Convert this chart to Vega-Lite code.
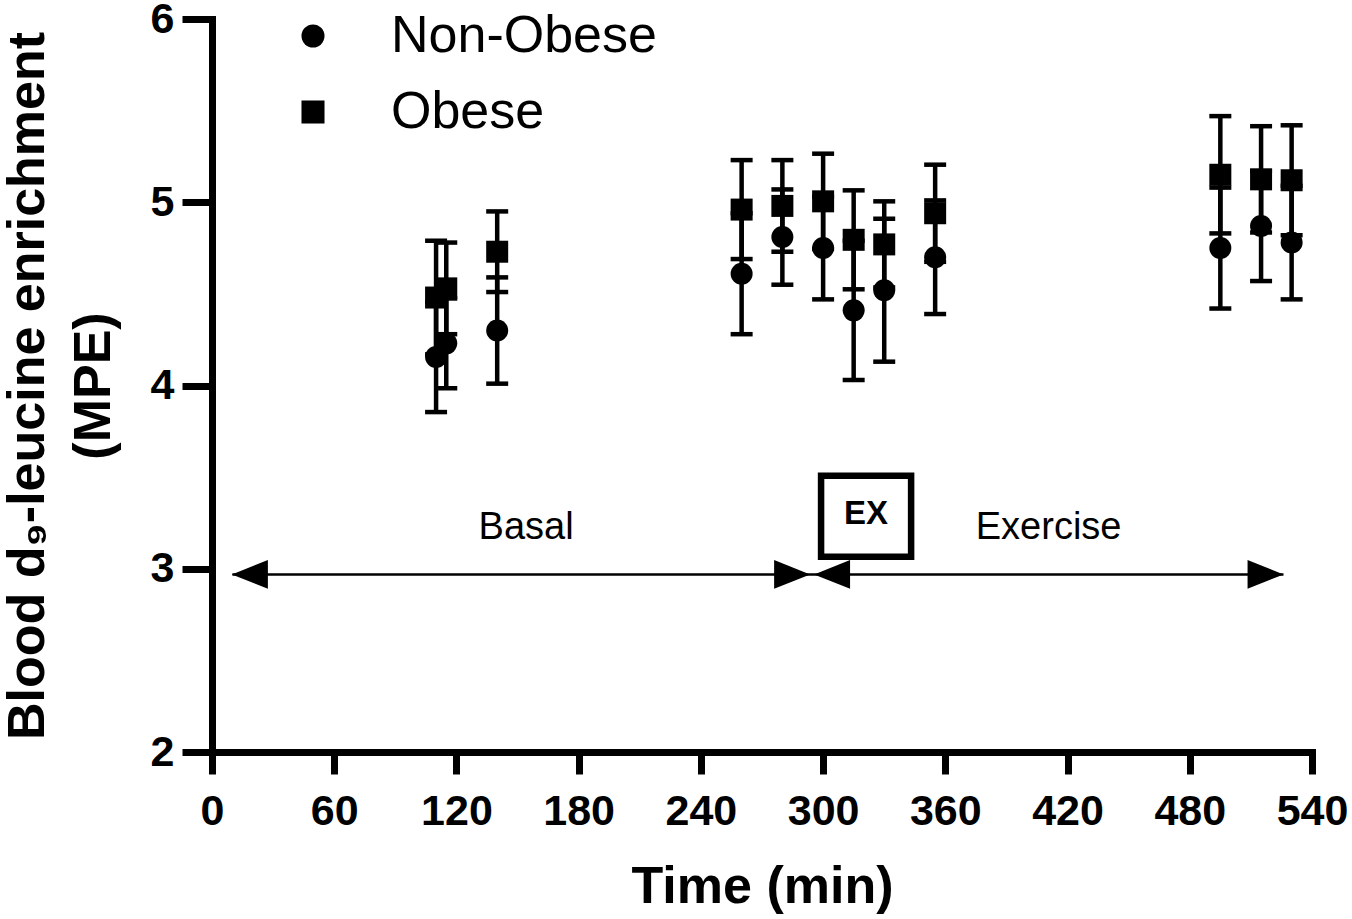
{
  "$schema": "https://vega.github.io/schema/vega-lite/v6.json",
  "width": 1100,
  "height": 733,
  "autosize": {"type": "none"},
  "padding": {"left": 212, "top": 19, "right": 40, "bottom": 167},
  "background": "white",
  "config": {
    "view": {"stroke": null},
    "font": "Liberation Sans",
    "axis": {
      "grid": false,
      "domainColor": "black",
      "domainWidth": 7,
      "domainCap": "square",
      "tickColor": "black",
      "tickWidth": 7,
      "labelColor": "black",
      "labelFont": "Liberation Sans",
      "labelFontWeight": "bold",
      "labelFontSize": 43,
      "labelFlush": false,
      "labelOverlap": false,
      "titleColor": "black",
      "titleFont": "Liberation Sans",
      "titleFontWeight": "bold",
      "titleFontSize": 52
    }
  },
  "datasets": {
    "enrichment": [
      {"group": "Non-Obese", "time": 110, "mean": 4.155, "lo": 3.855, "hi": 4.455},
      {"group": "Non-Obese", "time": 115, "mean": 4.23, "lo": 3.985, "hi": 4.475},
      {"group": "Non-Obese", "time": 140, "mean": 4.30, "lo": 4.01, "hi": 4.59},
      {"group": "Non-Obese", "time": 260, "mean": 4.61, "lo": 4.28, "hi": 4.94},
      {"group": "Non-Obese", "time": 280, "mean": 4.81, "lo": 4.55, "hi": 5.07},
      {"group": "Non-Obese", "time": 300, "mean": 4.75, "lo": 4.47, "hi": 5.03},
      {"group": "Non-Obese", "time": 315, "mean": 4.41, "lo": 4.03, "hi": 4.79},
      {"group": "Non-Obese", "time": 330, "mean": 4.52, "lo": 4.13, "hi": 4.91},
      {"group": "Non-Obese", "time": 355, "mean": 4.70, "lo": 4.39, "hi": 5.01},
      {"group": "Non-Obese", "time": 495, "mean": 4.75, "lo": 4.42, "hi": 5.08},
      {"group": "Non-Obese", "time": 515, "mean": 4.87, "lo": 4.57, "hi": 5.17},
      {"group": "Non-Obese", "time": 530, "mean": 4.78, "lo": 4.47, "hi": 5.09},
      {"group": "Obese", "time": 110, "mean": 4.48, "lo": 4.17, "hi": 4.79},
      {"group": "Obese", "time": 115, "mean": 4.53, "lo": 4.28, "hi": 4.78},
      {"group": "Obese", "time": 140, "mean": 4.73, "lo": 4.51, "hi": 4.95},
      {"group": "Obese", "time": 260, "mean": 4.96, "lo": 4.69, "hi": 5.23},
      {"group": "Obese", "time": 280, "mean": 4.98, "lo": 4.73, "hi": 5.23},
      {"group": "Obese", "time": 300, "mean": 5.005, "lo": 4.745, "hi": 5.265},
      {"group": "Obese", "time": 315, "mean": 4.795, "lo": 4.525, "hi": 5.065},
      {"group": "Obese", "time": 330, "mean": 4.77, "lo": 4.535, "hi": 5.005},
      {"group": "Obese", "time": 355, "mean": 4.94, "lo": 4.675, "hi": 5.205},
      {"group": "Obese", "time": 495, "mean": 5.15, "lo": 4.83, "hi": 5.47},
      {"group": "Obese", "time": 515, "mean": 5.125, "lo": 4.835, "hi": 5.415},
      {"group": "Obese", "time": 530, "mean": 5.12, "lo": 4.82, "hi": 5.42}
    ],
    "arrowline": [{"start": 10, "end": 526, "level": 2.969}],
    "arrowheads": [
      {"t": 18.6, "level": 2.969, "dir": "left"},
      {"t": 284.8, "level": 2.969, "dir": "right"},
      {"t": 304.4, "level": 2.969, "dir": "left"},
      {"t": 517.2, "level": 2.969, "dir": "right"}
    ],
    "exbox": [{"x1": 299, "x2": 343.2, "y1": 3.507, "y2": 3.065, "label": "EX", "tx": 321.1, "ty": 3.30}],
    "phases": [
      {"label": "Basal", "t": 154.2, "level": 3.223},
      {"label": "Exercise", "t": 410.7, "level": 3.223}
    ]
  },
  "layer": [
    {
      "data": {"name": "arrowline"},
      "mark": {"type": "rule", "color": "black", "strokeWidth": 2.5},
      "encoding": {
        "x": {"field": "start", "type": "quantitative", "scale": {"domain": [0, 540], "nice": false},
          "axis": {"values": [0, 60, 120, 180, 240, 300, 360, 420, 480, 540], "tickSize": 22, "labelPadding": 16, "title": "Time (min)", "titlePadding": 28}},
        "x2": {"field": "end"},
        "y": {"field": "level", "type": "quantitative", "scale": {"domain": [2, 6], "nice": false},
          "axis": {"values": [2, 3, 4, 5, 6], "format": "d", "tickSize": 30, "labelPadding": 8,
            "title": ["Blood d₉-leucine enrichment", "(MPE)"], "titleFontSize": 52, "titleLineHeight": 66, "titlePadding": 30}}
      }
    },
    {
      "data": {"name": "arrowheads"},
      "transform": [{"filter": "datum.dir === 'left'"}],
      "mark": {"type": "point", "filled": true, "color": "black", "opacity": 1, "size": 1296, "shape": "M-1,0L1,-0.8L1,0.8Z"},
      "encoding": {
        "x": {"field": "t", "type": "quantitative"},
        "y": {"field": "level", "type": "quantitative"}
      }
    },
    {
      "data": {"name": "arrowheads"},
      "transform": [{"filter": "datum.dir === 'right'"}],
      "mark": {"type": "point", "filled": true, "color": "black", "opacity": 1, "size": 1296, "shape": "M1,0L-1,-0.8L-1,0.8Z"},
      "encoding": {
        "x": {"field": "t", "type": "quantitative"},
        "y": {"field": "level", "type": "quantitative"}
      }
    },
    {
      "data": {"name": "exbox"},
      "mark": {"type": "rect", "fill": "white", "stroke": "black", "strokeWidth": 6.5},
      "encoding": {
        "x": {"field": "x1", "type": "quantitative"},
        "x2": {"field": "x2"},
        "y": {"field": "y1", "type": "quantitative"},
        "y2": {"field": "y2"}
      }
    },
    {
      "data": {"name": "exbox"},
      "mark": {"type": "text", "font": "Liberation Sans", "fontWeight": "bold", "fontSize": 33, "color": "black", "baseline": "middle", "align": "center"},
      "encoding": {
        "x": {"field": "tx", "type": "quantitative"},
        "y": {"field": "ty", "type": "quantitative"},
        "text": {"field": "label"}
      }
    },
    {
      "data": {"name": "phases"},
      "mark": {"type": "text", "font": "Liberation Sans", "fontSize": 38, "color": "black", "baseline": "middle", "align": "center"},
      "encoding": {
        "x": {"field": "t", "type": "quantitative"},
        "y": {"field": "level", "type": "quantitative"},
        "text": {"field": "label"}
      }
    },
    {
      "data": {"name": "enrichment"},
      "mark": {"type": "rule", "color": "black", "strokeWidth": 4.5},
      "encoding": {
        "x": {"field": "time", "type": "quantitative"},
        "y": {"field": "lo", "type": "quantitative"},
        "y2": {"field": "hi"}
      }
    },
    {
      "data": {"name": "enrichment"},
      "mark": {"type": "tick", "orient": "horizontal", "color": "black", "size": 22, "thickness": 4.5, "opacity": 1},
      "encoding": {
        "x": {"field": "time", "type": "quantitative"},
        "y": {"field": "lo", "type": "quantitative"}
      }
    },
    {
      "data": {"name": "enrichment"},
      "mark": {"type": "tick", "orient": "horizontal", "color": "black", "size": 22, "thickness": 4.5, "opacity": 1},
      "encoding": {
        "x": {"field": "time", "type": "quantitative"},
        "y": {"field": "hi", "type": "quantitative"}
      }
    },
    {
      "data": {"name": "enrichment"},
      "mark": {"type": "point", "filled": true, "color": "black", "opacity": 1, "size": 484},
      "encoding": {
        "x": {"field": "time", "type": "quantitative"},
        "y": {"field": "mean", "type": "quantitative"},
        "shape": {
          "field": "group", "type": "nominal",
          "scale": {"domain": ["Non-Obese", "Obese"], "range": ["circle", "square"]},
          "legend": {
            "title": null, "orient": "none", "legendX": 75, "legendY": -9, "padding": 0,
            "labelFont": "Liberation Sans", "labelFontSize": 52, "labelFontWeight": "normal", "labelColor": "black",
            "labelLimit": 0, "labelOffset": 52, "rowPadding": 24, "symbolSize": 530,
            "symbolFillColor": "black", "symbolStrokeColor": "black", "symbolStrokeWidth": 0, "symbolOpacity": 1
          }
        }
      }
    }
  ]
}
